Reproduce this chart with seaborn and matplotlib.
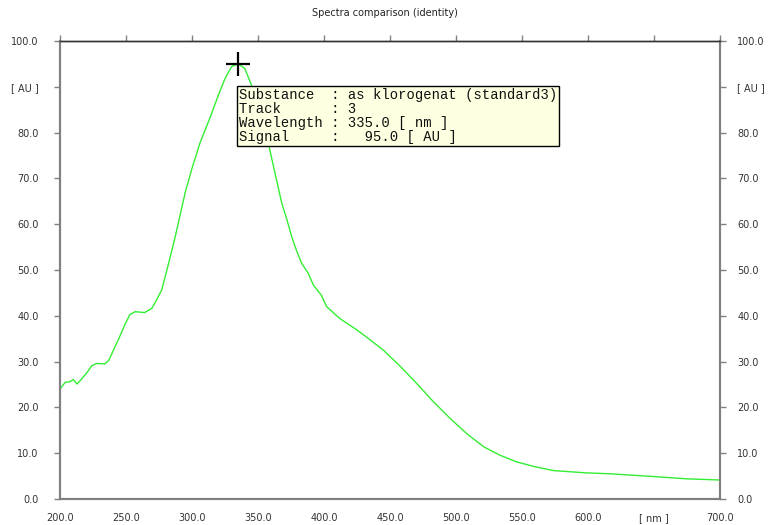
import numpy as np
import pandas as pd
import seaborn as sns
import matplotlib
matplotlib.use("Agg")
import matplotlib.pyplot as plt

# spectrum
wavelength = [200, 204, 207.5, 210, 213, 217.5, 221, 224, 228, 234,
              237, 240, 245, 249, 253, 257, 264, 269.5, 273, 277,
              281, 287, 291, 295, 300, 306, 314, 320, 325, 330,
              335, 340, 345, 351.5, 358, 364, 368, 372, 375.5, 379,
              383, 388, 392, 398, 402, 412, 425, 432, 445, 458, 470,
              483, 495.5, 508, 521, 533, 546, 559, 574, 599, 617,
              650, 675, 700]
signal = [24.0, 25.5, 25.6, 26.1, 25.1, 26.6, 27.8, 29.1, 29.6, 29.5,
          30.3, 32.2, 35.3, 38.0, 40.3, 40.9, 40.7, 41.6, 43.4, 45.6,
          50.0, 56.9, 62.0, 67.1, 72.2, 77.7, 83.5, 88.2, 91.8, 94.4,
          95.0, 94.0, 90.4, 84.6, 77.5, 69.7, 64.6, 60.9, 57.3, 54.4,
          51.5, 49.3, 46.7, 44.5, 42.0, 39.4, 36.9, 35.4, 32.5, 28.9, 25.3,
          21.2, 17.6, 14.3, 11.4, 9.6, 8.1, 7.1, 6.2, 5.7, 5.5,
          4.9, 4.4, 4.15]

x_ticks = [200, 250, 300, 350, 400, 450, 500, 550, 600, 650, 700]
x_labels = ["200.0", "250.0", "300.0", "350.0", "400.0", "450.0",
            "500.0", "550.0", "600.0", "[ nm ]", "700.0"]
y_ticks = [0, 10, 20, 30, 40, 50, 60, 70, 80, 90, 100]
y_labels = ["0.0", "10.0", "20.0", "30.0", "40.0", "50.0",
            "60.0", "70.0", "80.0", "[ AU ]", "100.0"]

peak_x, peak_y = 335.0, 95.0
info_text = ("Substance  : as klorogenat (standard3)\n"
             "Track      : 3\n"
             "Wavelength : 335.0 [ nm ]\n"
             "Signal     :   95.0 [ AU ]")

df = pd.DataFrame({"wavelength": wavelength, "signal": signal})

sns.set_style("white")
plt.rcParams["font.family"] = ["DejaVu Sans"]

fig = plt.figure(figsize=(7.69, 5.25), dpi=100)
ax = fig.add_axes([60 / 769, 1 - 499 / 525, 660 / 769, 458 / 525])

sns.lineplot(data=df, x="wavelength", y="signal", color="#33ee33",
             linewidth=1.0, ax=ax)
ax.plot([peak_x], [peak_y], marker="+", color="black", markersize=17,
        markeredgewidth=1.6)

ax.text(335.6, 89.8, info_text, family="Liberation Mono", fontsize=10,
        va="top", ha="left", linespacing=1.0, color="#111111",
        bbox=dict(boxstyle="square,pad=0.15", facecolor="#ffffe1",
                  edgecolor="black", linewidth=1.0))

ax.set_xlim(200, 700)
ax.set_ylim(0, 100)
ax.set_xticks(x_ticks)
ax.set_xticklabels(x_labels)
ax.set_yticks(y_ticks)
ax.set_yticklabels(y_labels)
ax.set_xlabel("")
ax.set_ylabel("")

ax.tick_params(axis="x", direction="out", length=4, width=1, color="#808080",
               labelsize=7, labelcolor="#333333", pad=6, top=True)
ax.tick_params(axis="y", direction="out", length=4.5, width=1, color="#808080",
               labelsize=7, labelcolor="#333333", pad=11)

# right-hand axis repeats the y scale
ax2 = ax.twinx()
ax2.set_ylim(0, 100)
ax2.set_yticks(y_ticks)
ax2.set_yticklabels(y_labels)
ax2.tick_params(axis="y", direction="out", length=4.5, width=1, color="#808080",
                labelsize=7, labelcolor="#333333", pad=8)
ax2.grid(False)

for a in (ax, ax2):
    for side in ["left", "right", "bottom"]:
        a.spines[side].set_visible(True)
        a.spines[side].set_color("#808080")
        a.spines[side].set_linewidth(1.5)
    a.spines["top"].set_visible(True)
    a.spines["top"].set_color("#333333")
    a.spines["top"].set_linewidth(1.0)

fig.text(0.5, 1 - 13 / 525, "Spectra comparison (identity)", ha="center",
         va="center", fontsize=7, color="#222222")

fig.savefig("out.png", dpi=100)
